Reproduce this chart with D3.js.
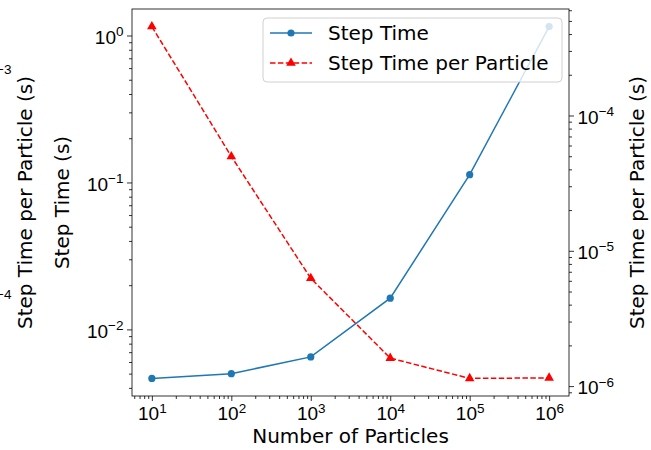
<!DOCTYPE html>
<html>
<head>
<meta charset="utf-8">
<script src="https://cdn.jsdelivr.net/npm/d3@7"></script>
<style>
  body { margin: 0; background: #fff; }
  svg { font-family: "DejaVu Sans", sans-serif; }
  .axis path, .axis line { stroke: #000; stroke-width: 0.8; }
</style>
</head>
<body>
<svg id="app" width="651" height="450"></svg>
<script>
// data
const particles = [1e1, 1e2, 1e3, 1e4, 1e5, 1e6];
const stepTime = [0.00464, 0.0050, 0.0065, 0.0163, 0.113, 1.15];
const stepTimePerParticle = [4.54e-4, 4.98e-5, 6.26e-6, 1.61e-6, 1.14e-6, 1.15e-6];
const seriesNames = ["Step Time", "Step Time per Particle"];
const ghostTicks = [1e-3, 1e-4];

const plot = { left: 132, right: 569, top: 9, bottom: 396 };

const svg = d3.select("#app");

// matplotlib style 5% margin in log space
function logDomain(vals) {
  const lo = Math.log10(d3.min(vals)), hi = Math.log10(d3.max(vals));
  const pad = (hi - lo) * 0.05;
  return [Math.pow(10, lo - pad), Math.pow(10, hi + pad)];
}

const x = d3.scaleLog().domain(logDomain(particles)).range([plot.left, plot.right]);
const yL = d3.scaleLog().domain(logDomain(stepTime)).range([plot.bottom, plot.top]);
const yR = d3.scaleLog().domain(logDomain(stepTimePerParticle)).range([plot.bottom, plot.top]);
// leftover twin axis pushed off the left edge
const yG = d3.scaleLog().domain([Math.pow(10, -4.436), Math.pow(10, -2.716)]).range([plot.bottom, plot.top]);

function majors(scale) {
  const [a, b] = scale.domain();
  const out = [];
  for (let e = Math.ceil(Math.log10(a)); e <= Math.floor(Math.log10(b)); e++) out.push(Math.pow(10, e));
  return out;
}
function minors(scale) {
  const [a, b] = scale.domain();
  const out = [];
  for (let e = Math.floor(Math.log10(a)); e <= Math.ceil(Math.log10(b)); e++) {
    for (let k = 2; k <= 9; k++) {
      const v = k * Math.pow(10, e);
      if (v >= a && v <= b) out.push(v);
    }
  }
  return out;
}

function powLabel(sel) {
  sel.each(function (d) {
    const t = d3.select(this);
    const e = Math.round(Math.log10(d));
    t.text(null);
    t.append("tspan").text("10");
    t.append("tspan")
      .attr("font-size", "13.5px")
      .attr("dy", "-0.55em")
      .text(e < 0 ? "\u2212" + (-e) : e);
  });
}

function drawAxis(gen, scale, transform, cls) {
  const g = svg.append("g").attr("class", "axis " + cls).attr("transform", transform);
  g.call(gen.tickValues(majors(scale)).tickSize(5).tickPadding(3.5).tickFormat(d => d));
  g.select(".domain").remove();
  g.selectAll("text").attr("font-size", "19px").attr("fill", "#000").call(powLabel);
  return g;
}
function drawMinor(gen, scale, transform) {
  const g = svg.append("g").attr("class", "axis").attr("transform", transform);
  g.call(gen.tickValues(minors(scale)).tickSize(3).tickFormat(""));
  g.select(".domain").remove();
}

// frame
svg.append("rect")
  .attr("x", plot.left).attr("y", plot.top)
  .attr("width", plot.right - plot.left).attr("height", plot.bottom - plot.top)
  .attr("fill", "none").attr("stroke", "#000").attr("stroke-width", 0.8);

drawMinor(d3.axisBottom(x), x, `translate(0,${plot.bottom})`);
drawAxis(d3.axisBottom(x), x, `translate(0,${plot.bottom})`, "x")
  .selectAll(".tick text").attr("dy", "0.82em");

drawMinor(d3.axisLeft(yL), yL, `translate(${plot.left},0)`);
drawAxis(d3.axisLeft(yL), yL, `translate(${plot.left},0)`, "yl")
  .selectAll(".tick text").attr("dy", "0.4em");

drawMinor(d3.axisRight(yR), yR, `translate(${plot.right},0)`);
drawAxis(d3.axisRight(yR), yR, `translate(${plot.right},0)`, "yr")
  .selectAll(".tick text").attr("dy", "0.4em");

// ghost axis: only the tail of its labels is visible, ticks are off canvas
const ghost = svg.append("g").attr("class", "axis").attr("transform", "translate(20,0)");
ghost.call(d3.axisLeft(yG).tickValues(ghostTicks).tickSize(5).tickPadding(3.5).tickFormat(d => d));
ghost.select(".domain").remove();
ghost.selectAll("line").remove();
ghost.selectAll("text").attr("font-size", "19px").attr("fill", "#000").attr("dy", "0.4em").call(powLabel);

// axis labels
svg.append("text").attr("x", (plot.left + plot.right) / 2).attr("y", 443)
  .attr("text-anchor", "middle").attr("font-size", "20px").text("Number of Particles");
svg.append("text").attr("transform", `translate(69,${(plot.top + plot.bottom) / 2}) rotate(-90)`)
  .attr("text-anchor", "middle").attr("font-size", "20px").text("Step Time (s)");
svg.append("text").attr("transform", `translate(32,${(plot.top + plot.bottom) / 2}) rotate(-90)`)
  .attr("text-anchor", "middle").attr("font-size", "20px").text("Step Time per Particle (s)");
svg.append("text").attr("transform", `translate(644,${(plot.top + plot.bottom) / 2}) rotate(-90)`)
  .attr("text-anchor", "middle").attr("font-size", "20px").text("Step Time per Particle (s)");

// series
const blue = "#1f77b4", red = "#ff0000";
const tri = d3.symbol().type(d3.symbolTriangle).size(40);

const lineR = d3.line().x((d, i) => x(particles[i])).y(d => yR(d));
svg.append("path").datum(stepTimePerParticle).attr("d", lineR)
  .attr("fill", "none").attr("stroke", red).attr("stroke-width", 1.5).attr("stroke-dasharray", "5.5,2.4");
svg.selectAll(".tri").data(stepTimePerParticle).join("path")
  .attr("transform", (d, i) => `translate(${x(particles[i])},${yR(d)})`)
  .attr("d", tri).attr("fill", red);

const lineL = d3.line().x((d, i) => x(particles[i])).y(d => yL(d));
svg.append("path").datum(stepTime).attr("d", lineL)
  .attr("fill", "none").attr("stroke", blue).attr("stroke-width", 1.5);
svg.selectAll(".dot").data(stepTime).join("circle")
  .attr("cx", (d, i) => x(particles[i])).attr("cy", d => yL(d))
  .attr("r", 3.6).attr("fill", blue);

// legend
const lg = svg.append("g");
lg.append("rect").attr("x", 263).attr("y", 18).attr("width", 299).attr("height", 64)
  .attr("rx", 4).attr("fill", "#fff").attr("fill-opacity", 0.8)
  .attr("stroke", "#d0d0d0").attr("stroke-width", 1);
const entries = [
  { name: seriesNames[0], color: blue, dash: null, mark: "circle" },
  { name: seriesNames[1], color: red, dash: "5.5,2.4", mark: "tri" }
];
entries.forEach((e, i) => {
  const cy = 33 + i * 30;
  lg.append("line").attr("x1", 270).attr("x2", 312).attr("y1", cy).attr("y2", cy)
    .attr("stroke", e.color).attr("stroke-width", 1.5).attr("stroke-dasharray", e.dash);
  if (e.mark === "circle") lg.append("circle").attr("cx", 291).attr("cy", cy).attr("r", 3.6).attr("fill", e.color);
  else lg.append("path").attr("transform", `translate(291,${cy})`).attr("d", tri).attr("fill", e.color);
  lg.append("text").attr("x", 328).attr("y", cy).attr("dy", "0.36em")
    .attr("font-size", "20px").text(e.name);
});
</script>
</body>
</html>
